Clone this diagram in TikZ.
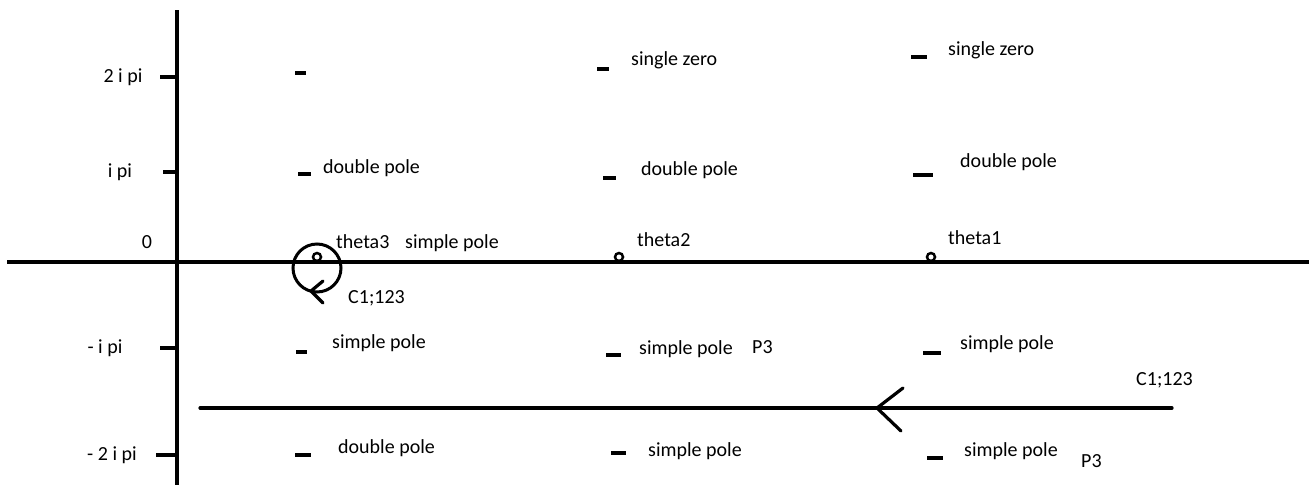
\documentclass[tikz,border=0pt]{standalone}
\usepackage{fontspec}
\setmainfont{Carlito}
\begin{document}
\begin{tikzpicture}[x=1pt,y=-1pt,
  lbl/.style={anchor=west,inner sep=0pt,font=\fontsize{20}{22}\selectfont},
  axis/.style={line width=3.2pt},
  tick/.style={line width=3.5pt},
  dot/.style={circle,draw,line width=2.5pt,minimum size=8pt,inner sep=0pt},
  chev/.style={line width=3.2pt,line cap=round}]
\useasboundingbox (0,0) rectangle (1311,485);
% axes
\coordinate (hL) at (7,262); \coordinate (hR) at (1309,262);
\coordinate (vT) at (177,10); \coordinate (vB) at (177,485);
\draw[axis] (hL) -- (hR);
\draw[axis] (vT) -- (vB);
% ticks
\foreach \n/\xa/\yy in {t1/160/77, t2/163/172, t3/160/348, t4/156/455}
  {\coordinate (\n) at (\xa,\yy); \draw[tick] (\n) -- (177,\yy);}
% tick labels
\node[lbl,anchor=center] (l2ipi) at (123,77) {2 i pi};
\node[lbl,anchor=center] (lipi) at (120,172) {i pi};
\node[lbl,anchor=center] (l0) at (147,242) {0};
\node[lbl,anchor=center] (lmipi) at (105,348) {- i pi};
\node[lbl,anchor=center] (lm2ipi) at (112,455) {- 2 i pi};
% pole/zero marks
\foreach \n/\xa/\xb/\yy in {a1/295/306/73, a2/298/311/174, a3/296/307/352, a4/295/311/455,
  b1/597/609/69, b2/603/616/178, b3/606/621/355, b4/611/626/453,
  c1/911/927/57, c2/913/933/175, c3/923/941/353, c4/927/943/458}
  {\coordinate (\n) at (\xa,\yy); \draw[tick] (\n) -- (\xb,\yy);}
% labels
\node[lbl] (ta2) at (323,168) {double pole};
\node[lbl] (ta3) at (332,343) {simple pole};
\node[lbl] (ta4) at (338,448) {double pole};
\node[lbl] (tb1) at (631,60) {single zero};
\node[lbl] (tb2) at (641,170) {double pole};
\node[lbl] (tb3) at (639,349) {simple pole};
\node[lbl] (p3a) at (752,347) {P3};
\node[lbl] (tb4) at (648,451) {simple pole};
\node[lbl] (tc1) at (948,50) {single zero};
\node[lbl] (tc2) at (960,162) {double pole};
\node[lbl] (tc3) at (960,344) {simple pole};
\node[lbl] (tc4) at (964,451) {simple pole};
\node[lbl] (p3b) at (1081,461) {P3};
% theta points
\node[dot] (th3) at (317,257) {};
\node[dot] (th2) at (619,257) {};
\node[dot] (th1) at (931,257) {};
\node[lbl] (th3l) at (336,242) {theta3};
\node[lbl] (sp0) at (405,243) {simple pole};
\node[lbl] (th2l) at (637,240) {theta2};
\node[lbl] (th1l) at (948,238) {theta1};
% small contour
\node[circle,draw,line width=3pt,minimum size=48pt,inner sep=0pt] (cc) at (317,268) {};
\coordinate (ca) at (311,291);
\draw[chev] (323,281) -- (ca) -- (323,303);
\node[lbl] (cl1) at (348,298) {C1;123};
% big contour
\coordinate (bL) at (200,408); \coordinate (bR) at (1172,408);
\draw[axis,line cap=round] (bL) -- (bR);
\coordinate (ba) at (877,408);
\draw[chev] (903,388) -- (ba) -- (901,431);
\node[lbl] (cl2) at (1136,380) {C1;123};
\end{tikzpicture}
\end{document}
